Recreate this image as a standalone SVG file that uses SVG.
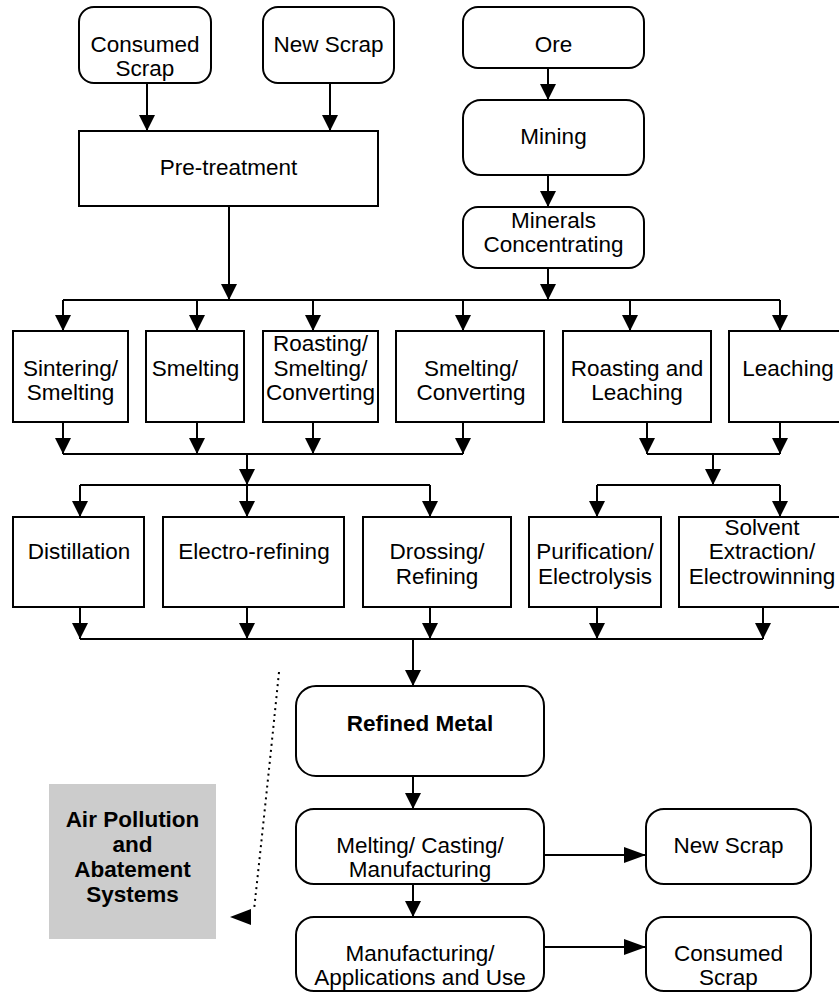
<svg xmlns="http://www.w3.org/2000/svg" width="839" height="992" viewBox="0 0 839 992">
<style>
.box{fill:#fff;stroke:#000;stroke-width:2}
.gray{fill:#cccccc;stroke:none}
.t{font-family:"Liberation Sans",Arial,sans-serif;font-size:22.5px;fill:#000;text-anchor:middle}
.b{font-weight:bold}
.c{fill:none;stroke:#000;stroke-width:2}
.a{marker-end:url(#ah)}
.h{marker-end:url(#ah2)}
.d{fill:none;stroke:#000;stroke-width:2;stroke-dasharray:2 4}
</style>
<defs>
<marker id="ah" viewBox="0 0 16 16" refX="16" refY="8" markerWidth="16" markerHeight="16" orient="auto" markerUnits="userSpaceOnUse"><path d="M0,0 L16,8 L0,16 Z" fill="#000"/></marker>
<marker id="ah2" viewBox="0 0 22 16" refX="22" refY="8" markerWidth="22" markerHeight="16" orient="auto" markerUnits="userSpaceOnUse"><path d="M0,0 L22,8 L0,16 Z" fill="#000"/></marker>
</defs>

<g id="consumed-scrap-top"><rect class="box" x="79" y="7" width="132" height="76" rx="15"/><text class="t" x="145" y="52">Consumed</text><text class="t" x="145" y="76">Scrap</text></g>
<g id="new-scrap-top"><rect class="box" x="263" y="7" width="131" height="76" rx="15"/><text class="t" x="328.5" y="52">New Scrap</text></g>
<g id="ore"><rect class="box" x="463" y="7" width="181" height="61" rx="15"/><text class="t" x="553.5" y="52">Ore</text></g>
<g id="mining"><rect class="box" x="463" y="100" width="181" height="75" rx="18"/><text class="t" x="553.5" y="144">Mining</text></g>
<g id="minerals-concentrating"><rect class="box" x="463" y="207" width="181" height="61" rx="15"/><text class="t" x="553.5" y="228">Minerals</text><text class="t" x="553.5" y="252">Concentrating</text></g>
<g id="pre-treatment"><rect class="box" x="79" y="131" width="299" height="75"/><text class="t" x="228.5" y="175">Pre-treatment</text></g>

<g id="sintering-smelting"><rect class="box" x="13" y="331" width="115" height="91"/><text class="t" x="70.5" y="376">Sintering/</text><text class="t" x="70.5" y="400">Smelting</text></g>
<g id="smelting"><rect class="box" x="146" y="331" width="98" height="91"/><text class="t" x="195.5" y="376">Smelting</text></g>
<g id="roasting-smelting-converting"><rect class="box" x="263" y="331" width="115" height="91"/><text class="t" x="320.5" y="351">Roasting/</text><text class="t" x="320.5" y="376">Smelting/</text><text class="t" x="320.5" y="400">Converting</text></g>
<g id="smelting-converting"><rect class="box" x="396" y="331" width="148" height="91"/><text class="t" x="471" y="376">Smelting/</text><text class="t" x="471" y="400">Converting</text></g>
<g id="roasting-leaching"><rect class="box" x="563" y="331" width="148" height="91"/><text class="t" x="637" y="376">Roasting and</text><text class="t" x="637" y="400">Leaching</text></g>
<g id="leaching"><rect class="box" x="729" y="331" width="118" height="91"/><text class="t" x="788" y="376">Leaching</text></g>

<g id="distillation"><rect class="box" x="13" y="517" width="131" height="90"/><text class="t" x="79" y="559">Distillation</text></g>
<g id="electro-refining"><rect class="box" x="163" y="517" width="181" height="90"/><text class="t" x="254" y="559">Electro-refining</text></g>
<g id="drossing-refining"><rect class="box" x="363" y="517" width="148" height="90"/><text class="t" x="437" y="559">Drossing/</text><text class="t" x="437" y="584">Refining</text></g>
<g id="purification-electrolysis"><rect class="box" x="529" y="517" width="132" height="90"/><text class="t" x="595" y="559">Purification/</text><text class="t" x="595" y="584">Electrolysis</text></g>
<g id="solvent-extraction"><rect class="box" x="679" y="517" width="168" height="90"/><text class="t" x="762" y="535">Solvent</text><text class="t" x="762" y="559">Extraction/</text><text class="t" x="762" y="584">Electrowinning</text></g>

<g id="refined-metal"><rect class="box" x="296" y="686" width="248" height="90" rx="20"/><text class="t b" x="420" y="731">Refined Metal</text></g>
<g id="melting-casting"><rect class="box" x="296" y="809" width="248" height="75" rx="18"/><text class="t" x="420" y="853">Melting/ Casting/</text><text class="t" x="420" y="877">Manufacturing</text></g>
<g id="manufacturing-use"><rect class="box" x="296" y="917" width="248" height="74" rx="18"/><text class="t" x="420" y="961">Manufacturing/</text><text class="t" x="420" y="985">Applications and Use</text></g>
<g id="new-scrap-bottom"><rect class="box" x="646" y="809" width="165" height="75" rx="18"/><text class="t" x="728.5" y="853">New Scrap</text></g>
<g id="consumed-scrap-bottom"><rect class="box" x="646" y="917" width="165" height="74" rx="18"/><text class="t" x="728.5" y="961">Consumed</text><text class="t" x="728.5" y="985">Scrap</text></g>
<g id="air-pollution"><rect class="gray" x="49" y="784" width="167" height="155"/><text class="t b" x="132.5" y="827">Air Pollution</text><text class="t b" x="132.5" y="852">and</text><text class="t b" x="132.5" y="877">Abatement</text><text class="t b" x="132.5" y="902">Systems</text></g>

<g id="connectors">
<path class="c a" d="M147,83 V131"/>
<path class="c a" d="M330,83 V131"/>
<path class="c a" d="M548,68 V100"/>
<path class="c a" d="M548,175 V207"/>
<path class="c a" d="M548,268 V300"/>
<path class="c a" d="M229,206 V300"/>
<path class="c" d="M63,300 H780"/>
<path class="c a" d="M63,300 V331"/>
<path class="c a" d="M197,300 V331"/>
<path class="c a" d="M313,300 V331"/>
<path class="c a" d="M463,300 V331"/>
<path class="c a" d="M630,300 V331"/>
<path class="c a" d="M780,300 V331"/>
<path class="c a" d="M63,422 V454"/>
<path class="c a" d="M197,422 V454"/>
<path class="c a" d="M313,422 V454"/>
<path class="c a" d="M463,422 V454"/>
<path class="c" d="M63,454 H463"/>
<path class="c a" d="M647,422 V454"/>
<path class="c a" d="M780,422 V454"/>
<path class="c" d="M647,454 H780"/>
<path class="c a" d="M247,454 V485"/>
<path class="c" d="M80,485 H430"/>
<path class="c a" d="M80,485 V517"/>
<path class="c a" d="M247,485 V517"/>
<path class="c a" d="M430,485 V517"/>
<path class="c a" d="M713,454 V485"/>
<path class="c" d="M597,485 H780"/>
<path class="c a" d="M597,485 V517"/>
<path class="c a" d="M780,485 V517"/>
<path class="c a" d="M80,607 V639"/>
<path class="c a" d="M247,607 V639"/>
<path class="c a" d="M430,607 V639"/>
<path class="c a" d="M597,607 V639"/>
<path class="c a" d="M763,607 V639"/>
<path class="c" d="M80,639 H763"/>
<path class="c a" d="M413,639 V686"/>
<path class="c a" d="M413,776 V809"/>
<path class="c a" d="M413,884 V917"/>
<path class="c h" d="M544,855 H646"/>
<path class="c h" d="M544,947 H646"/>
<path class="d" d="M279,672 Q266,800 254,910"/>
<path d="M230,917 L251,909 L251,925 Z" fill="#000"/>
</g>
</svg>
